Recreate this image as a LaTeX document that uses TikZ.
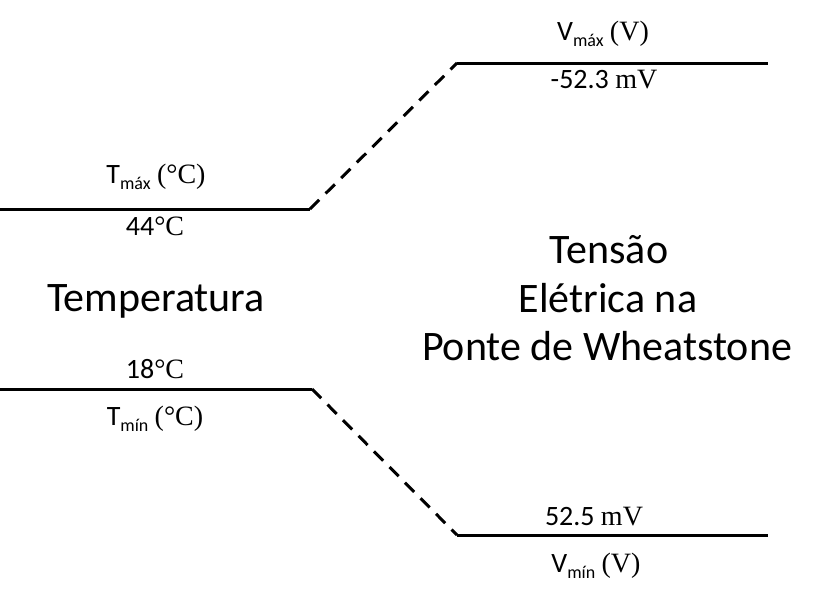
\documentclass[tikz,border=0pt]{standalone}
\usepackage{fontspec}
\setmainfont{Carlito}
\newfontfamily\tms{Liberation Serif}
\newcommand\lowsub[1]{\raisebox{-6pt}{\fontsize{18}{20}\selectfont #1}}
\begin{document}
\begin{tikzpicture}[x=1pt,y=1pt,
  lvl/.style={line width=3pt},
  link/.style={line width=3pt, dash pattern=on 13pt off 9pt},
  lbl/.style={anchor=base, inner sep=0pt, font=\fontsize{28}{32}\selectfont},
  big/.style={anchor=base, inner sep=0pt, align=center, font=\fontsize{42}{49}\selectfont}]
\useasboundingbox (0,0) rectangle (817,-597);
% level coordinates
\coordinate (tmaxL) at (0,-209);
\coordinate (tmaxR) at (310,-209);
\coordinate (vmaxL) at (457,-63);
\coordinate (vmaxR) at (768,-63);
\coordinate (tminL) at (0,-389);
\coordinate (tminR) at (312,-389);
\coordinate (vminL) at (457,-535);
\coordinate (vminR) at (768,-535);
% levels
\draw[lvl] (tmaxL) -- (tmaxR);
\draw[lvl] (vmaxL) -- (vmaxR);
\draw[lvl] (tminL) -- (tminR);
\draw[lvl] (vminL) -- (vminR);
% links
\draw[link] (tmaxR) -- (vmaxL);
\draw[link] (tminR) -- (vminL);
% labels
\node[lbl] (tmaxlab) at (156,-183) {T\lowsub{máx} {\tms (°C)}};
\node[lbl] (tmaxval) at (155,-235) {44{\tms °C}};
\node[lbl] (tminval) at (155,-378) {18{\tms °C}};
\node[lbl] (tminlab) at (155,-425) {T\lowsub{mín} {\tms (°C)}};
\node[lbl] (vmaxlab) at (603,-40) {V\lowsub{máx} {\tms (V)}};
\node[lbl] (vmaxval) at (604,-88) {-52.3 {\tms mV}};
\node[lbl] (vminval) at (594,-525) {52.5 {\tms mV}};
\node[lbl] (vminlab) at (596,-572) {V\lowsub{mín} {\tms (V)}};
\node[big] (temp) at (156,-311) {Temperatura};
\node[big] (tens1) at (609,-263) {Tensão};
\node[big] (tens2) at (608,-312) {Elétrica na};
\node[big] (tens3) at (607,-360) {Ponte de Wheatstone};
\end{tikzpicture}
\end{document}
